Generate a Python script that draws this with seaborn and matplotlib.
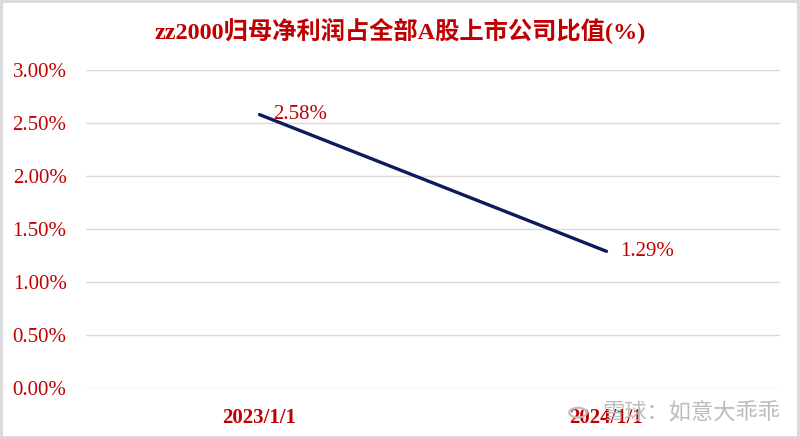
import pandas as pd
import matplotlib.pyplot as plt
import seaborn as sns
from matplotlib.ticker import FuncFormatter
from matplotlib.patches import Rectangle, Circle

dates = ['2023/1/1', '2024/1/1']
ratio = [2.58, 1.29]
labels = ['2.58%', '1.29%']

sns.set_theme(style='white')
plt.rcParams['font.family'] = ['Liberation Serif', 'Noto Sans CJK SC']

red = '#C00000'
navy = '#0D1A5C'

df = pd.DataFrame({'date': dates, 'ratio': ratio})

fig = plt.figure(figsize=(8, 4.38), dpi=100)
ax = fig.add_axes([0.1075, 0.114, 0.8675, 0.726])

sns.lineplot(data=df, x='date', y='ratio', color=navy, linewidth=2.4, ax=ax, sort=False)

for i, (v, t) in enumerate(zip(ratio, labels)):
    ax.annotate(t, (i, v), xytext=(10, 0), textcoords='offset points',
                ha='left', va='center', color=red, fontsize=15)

ax.set_xlim(-0.5, 1.5)
ax.set_ylim(0, 3.0)
ax.set_yticks([0, 0.5, 1.0, 1.5, 2.0, 2.5, 3.0])
ax.yaxis.set_major_formatter(FuncFormatter(lambda v, p: f'{v:.2f}%'))
ax.grid(axis='y', color='#d9d9d9', linewidth=1)
ax.set_axisbelow(True)
for s in ax.spines.values():
    s.set_visible(False)
ax.tick_params(axis='both', length=0, labelcolor=red, labelsize=15)
ax.tick_params(axis='y', pad=14)
ax.tick_params(axis='x', pad=14)
for lab in ax.get_xticklabels():
    lab.set_fontweight('bold')
ax.set_xlabel('')
ax.set_ylabel('')

fig.text(0.5, 0.93, 'zz2000归母净利润占全部A股上市公司比值(%)', ha='center', va='center',
         color=red, fontsize=17.5, fontweight='bold')

# watermark
fig.text(0.975, 0.058, '雪球：如意大乖乖', ha='right', va='center', color='#bdbdbd',
         fontsize=16, family=['Noto Sans CJK SC', 'DejaVu Sans'])
fig.patches.append(Circle((0.7225, 0.058), 0.011, transform=fig.transFigure,
                          fill=False, edgecolor='#bdbdbd', linewidth=1.5))

fig.patches.append(Rectangle((0.001, 0.002), 0.997, 0.995, transform=fig.transFigure,
                             fill=False, edgecolor='#d9d9d9', linewidth=2))

fig.savefig('out.png', dpi=100)
